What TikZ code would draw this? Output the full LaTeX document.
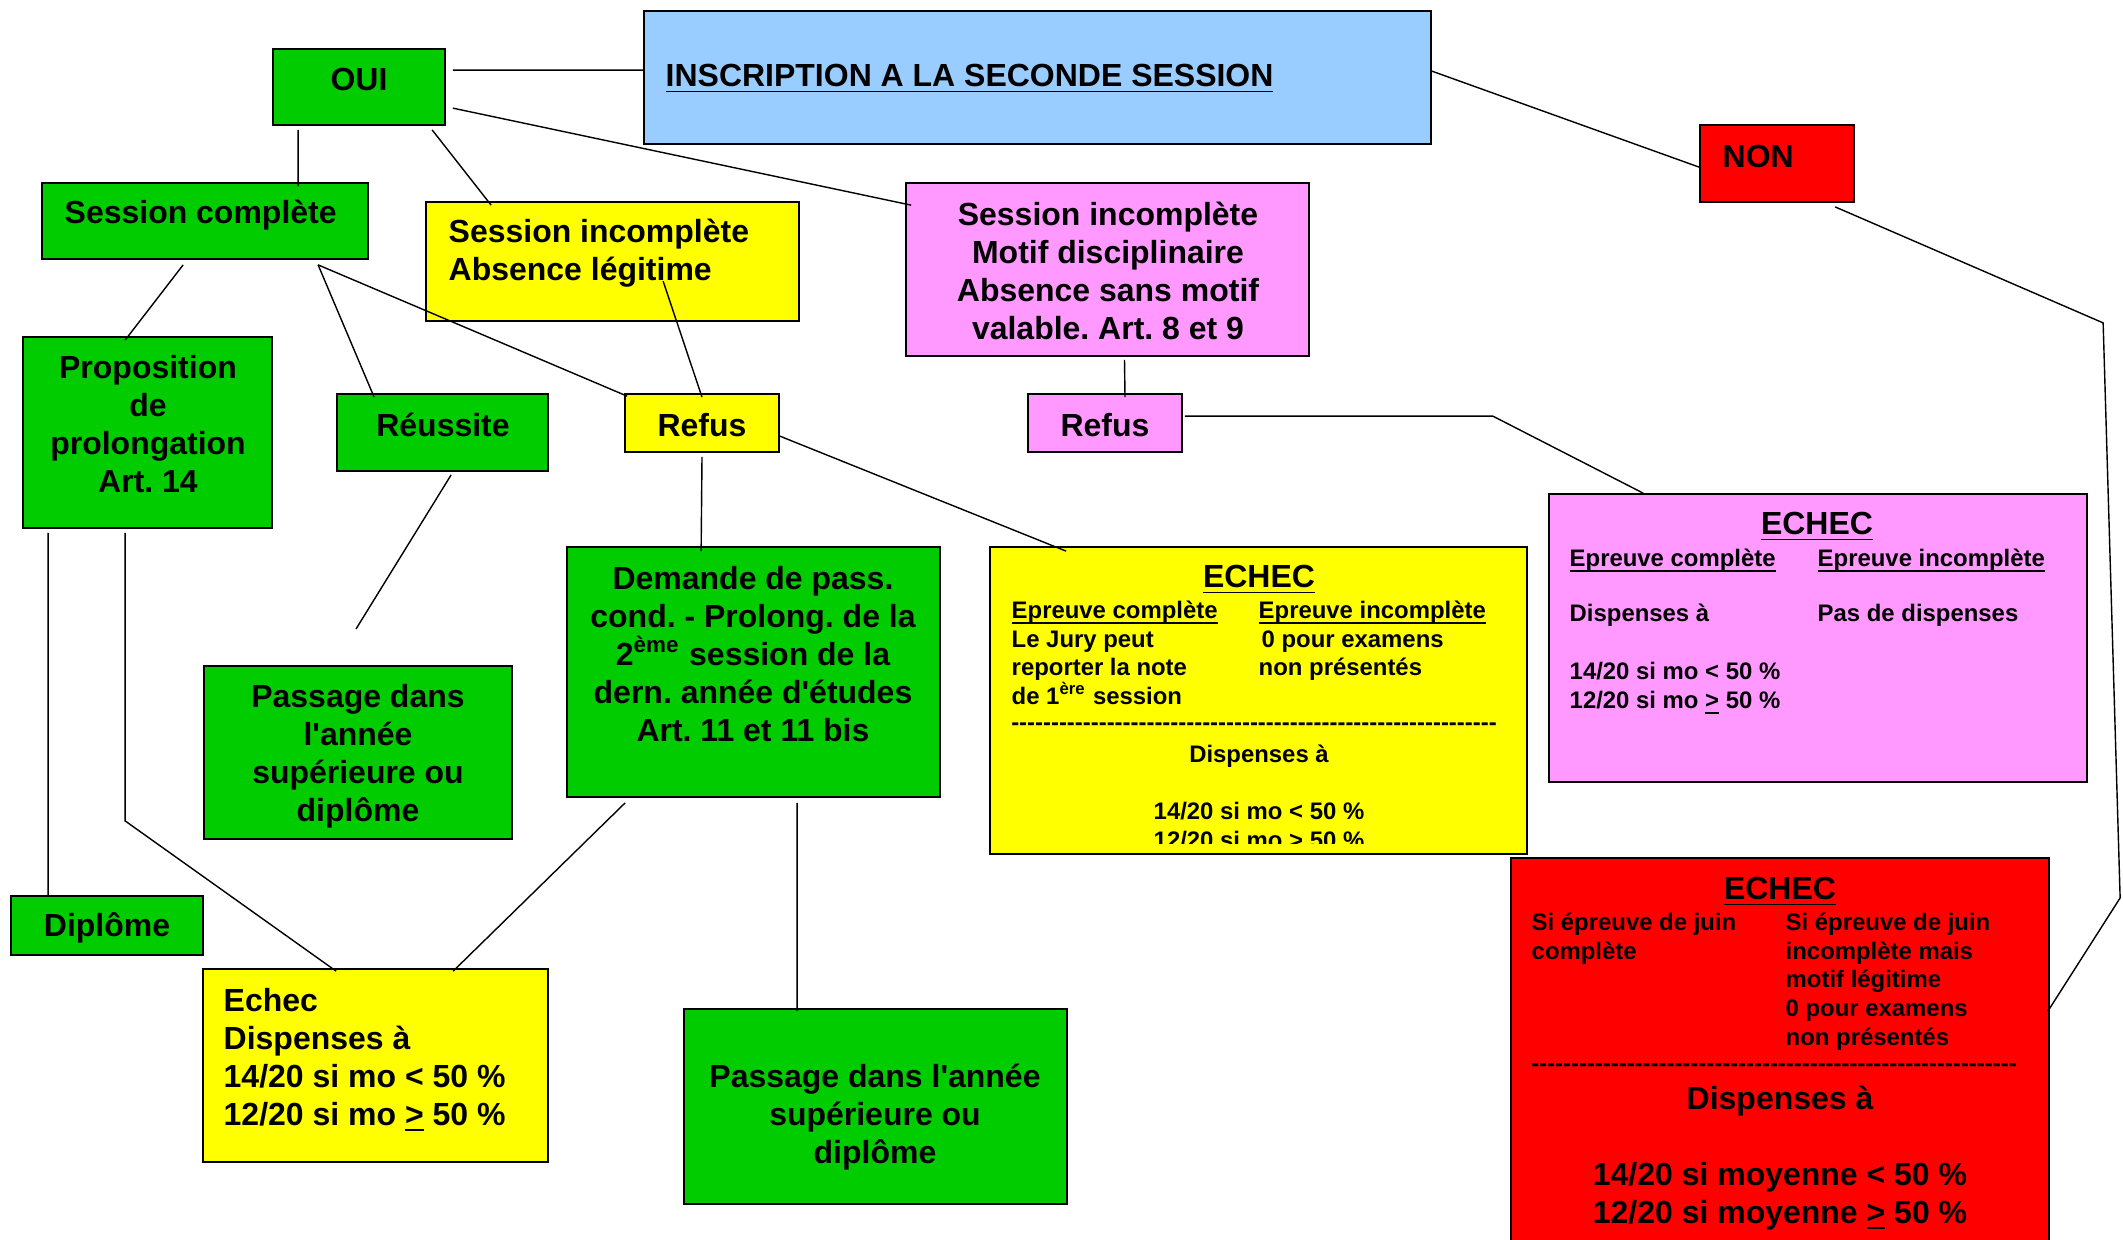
\documentclass[tikz,border=0pt]{standalone}
\usepackage{fontspec}
\setmainfont{Liberation Sans}
\usepackage{tikz}
\usetikzlibrary{calc}
\usepackage{xcolor}
\frenchspacing

\definecolor{gfill}{RGB}{0,204,0}
\definecolor{yfill}{RGB}{255,255,0}
\definecolor{pfill}{RGB}{255,153,255}
\definecolor{rfill}{RGB}{255,0,0}
\definecolor{bfill}{RGB}{153,204,255}
\newcommand{\hyphens}[1]{\foreach \k in {1,...,#1}{-\kern0pt}}
\newcommand{\ulhead}[1]{\underline{\raisebox{0pt}[\height][0pt]{#1}}}

\begin{document}
\begin{tikzpicture}[
    x=0.1mm, y=-0.1mm,
    box/.style={rectangle, draw, line width=0.5pt, inner sep=0pt},
    gbox/.style={box, fill=gfill},
    ybox/.style={box, fill=yfill},
    pbox/.style={box, fill=pfill},
    rbox/.style={box, fill=rfill},
    bbox/.style={box, fill=bfill},
    bigtext/.style={font=\fontsize{9.1}{10.8}\selectfont\bfseries, inner sep=0pt, align=center},
    smalltext/.style={font=\fontsize{6.8}{8.2}\selectfont\bfseries, inner sep=0pt, align=left},
    link/.style={line width=0.4pt}
]
\useasboundingbox (0,0) rectangle (2123,1239);

% boxes
\node[bbox, minimum width=78.7mm, minimum height=13.3mm] (insc) at (1037.5,77.5) {};
\node[gbox, minimum width=17.2mm, minimum height=7.6mm] (oui) at (359,87) {};
\node[rbox, minimum width=15.4mm, minimum height=7.7mm] (non) at (1777,163.5) {};
\node[gbox, minimum width=32.6mm, minimum height=7.6mm] (scomp) at (205,221) {};
\node[ybox, minimum width=37.3mm, minimum height=11.9mm] (absl) at (612.5,261.5) {};
\node[pbox, minimum width=40.3mm, minimum height=17.3mm] (motif) at (1107.5,269.5) {};
\node[gbox, minimum width=24.9mm, minimum height=19.1mm] (prop) at (147.5,432.5) {};
\node[gbox, minimum width=21.1mm, minimum height=7.7mm] (reus) at (442.5,432.5) {};
\node[ybox, minimum width=15.4mm, minimum height=5.8mm] (refJ) at (702,423) {};
\node[pbox, minimum width=15.4mm, minimum height=5.8mm] (refP) at (1105,423) {};
\node[pbox, minimum width=53.8mm, minimum height=28.8mm] (echP) at (1818,638) {};
\node[ybox, minimum width=53.7mm, minimum height=30.7mm] (echJ) at (1258.5,700.5) {};
\node[gbox, minimum width=37.3mm, minimum height=25mm] (dem) at (753.5,672) {};
\node[gbox, minimum width=30.8mm, minimum height=17.3mm] (passL) at (358,752.5) {};
\node[gbox, minimum width=19.2mm, minimum height=5.9mm] (dipl) at (107,925.5) {};
\node[ybox, minimum width=34.5mm, minimum height=19.3mm] (echL) at (375.5,1065.5) {};
\node[gbox, minimum width=38.3mm, minimum height=19.5mm] (passB) at (875.5,1106.5) {};
\node[rbox, minimum width=53.8mm, minimum height=44.2mm] (echR) at (1780,1079) {};

% texts
\node[bigtext, anchor=west] (inscT) at (665,79) {\underline{INSCRIPTION A LA SECONDE SESSION}};
\node[bigtext] (ouiT) at (359,79) {OUI};
\node[bigtext, anchor=west] (nonT) at (1722,156) {NON};
\node[bigtext, anchor=west] (scompT) at (64,215) {Session complète};
\node[bigtext, align=left, anchor=west] (abslT) at (448,253) {Session incomplète\\Absence légitime};
\node[bigtext] (motifT) at (1108,271) {Session incomplète\\Motif disciplinaire\\Absence sans motif\\valable. Art. 8 et 9};
\node[bigtext] (propT) at (148,424) {Proposition\\de\\prolongation\\Art. 14};
\node[bigtext] (reusT) at (443,425) {Réussite};
\node[bigtext] (refJT) at (702,425) {Refus};
\node[bigtext] (refPT) at (1105,425) {Refus};
\node[bigtext] (demT) at (753,654) {Demande de pass.\\cond. - Prolong. de la\\2\textsuperscript{ème} session de la\\dern. année d\textquotesingle études\\Art. 11 et 11 bis};
\node[bigtext] (passLT) at (358,756) {Passage dans\\l\textquotesingle année\\supérieure ou\\diplôme};
\node[bigtext] (diplT) at (107,928) {Diplôme};
\node[bigtext, align=left, anchor=west] (echLT) at (223,1060) {Echec\\Dispenses à\\14/20 si mo < 50 \%\\12/20 si mo \underline{>} 50 \%};
\node[bigtext] (passBT) at (875,1117) {Passage dans l\textquotesingle année\\supérieure ou\\diplôme};

% echec, pink
\node[bigtext] (echPT) at (1817,527) {\underline{ECHEC}};
\node[smalltext, anchor=north west] (echPL) at (1569,548) {\ulhead{Epreuve complète}\\[7.6pt]Dispenses à\\[8.2pt]14/20 si mo < 50 \%\\12/20 si mo \underline{>} 50 \%};
\node[smalltext, anchor=north west] (echPR) at (1817,548) {\ulhead{Epreuve incomplète}\\[7.6pt]Pas de dispenses};

% echec, yellow (text cut at the bottom)
\begin{scope}
\clip (echJ.north west) rectangle ($(echJ.south east)+(0,-11)$);
\node[bigtext] (echJT) at (1259,580) {\underline{ECHEC}};
\node[smalltext, anchor=north west] (echJL) at (1011,600) {\ulhead{Epreuve complète}\\Le Jury peut\\reporter la note\\de 1\textsuperscript{ère} session};
\node[smalltext, anchor=north west] (echJR) at (1258,600) {\ulhead{Epreuve incomplète}\\\hspace*{0.3mm}0 pour examens\\non présentés};
\node[smalltext] (echJD) at (1254,727) {\hyphens{61}};
\node[smalltext, align=center] (echJB) at (1259,800) {Dispenses à\\[8.2pt]14/20 si mo < 50 \%\\12/20 si mo \underline{>} 50 \%};
\end{scope}

% echec, red
\node[bigtext] (echRT) at (1780,892) {\underline{ECHEC}};
\node[smalltext, anchor=north west] (echRL) at (1531,912) {Si épreuve de juin\\complète};
\node[smalltext, anchor=north west] (echRR) at (1785,912) {Si épreuve de juin\\incomplète mais\\motif légitime\\0 pour examens\\non présentés};
\node[smalltext] (echRD) at (1774,1068) {\hyphens{61}};
\node[bigtext] (echRB) at (1780,1158) {Dispenses à\\[10.8pt]14/20 si moyenne < 50 \%\\12/20 si moyenne \underline{>} 50 \%};

% connectors
\coordinate (reusEnd) at (356,629);
\draw[link] ($(oui.north east)+(7,22)$) -- ($(insc.north west)+(0,60)$);
\draw[link] ($(oui.north east)+(7,60)$) -- ($(motif.north west)+(6,23)$);
\draw[link] ($(insc.north east)+(0,61)$) -- ($(non.north west)+(0,43)$);
\draw[link] ($(non.south west)+(136,4)$) -- ++(268,116) -- ++(17,575) -- ($(echR.north east)+(-2,154)$);
\draw[link] ($(oui.south west)+(26,4)$) -- ($(scomp.north west)+(257,4)$);
\draw[link] ($(oui.south west)+(160,4)$) -- ($(absl.north west)+(66,4)$);
\draw[link] ($(scomp.south west)+(142,5)$) -- ($(prop.north west)+(103,4)$);
\draw[link] ($(scomp.south west)+(277,5)$) -- ($(reus.north west)+(38,4)$);
\draw[link] ($(scomp.south west)+(277,5)$) -- ($(refJ.north west)+(3,3)$);
\draw[link] ($(absl.north west)+(238,80)$) -- ($(refJ.north)+(0,4)$);
\draw[link] ($(motif.south)+(17,3)$) -- ($(refP.north)+(20,4)$);
\draw[link] ($(refP.north east)+(2,23)$) -- ++(308,0) -- ($(echP.north west)+(95,0)$);
\draw[link] ($(refJ.north east)+(0,43)$) -- ($(echJ.north west)+(77,5)$);
\draw[link] ($(refJ.south)+(0,4)$) -- ($(dem.north west)+(135,5)$);
\draw[link] ($(reus.south west)+(115,3)$) -- (reusEnd);
\draw[link] ($(prop.south west)+(26,4)$) -- ($(dipl.north west)+(38,1)$);
\draw[link] ($(prop.south west)+(103,4)$) -- ++(0,288) -- ($(echL.north west)+(134,3)$);
\draw[link] ($(dem.south west)+(59,5)$) -- ($(echL.north west)+(251,3)$);
\draw[link] ($(dem.south west)+(231,5)$) -- ($(passB.north west)+(114,3)$);
\end{tikzpicture}
\end{document}
